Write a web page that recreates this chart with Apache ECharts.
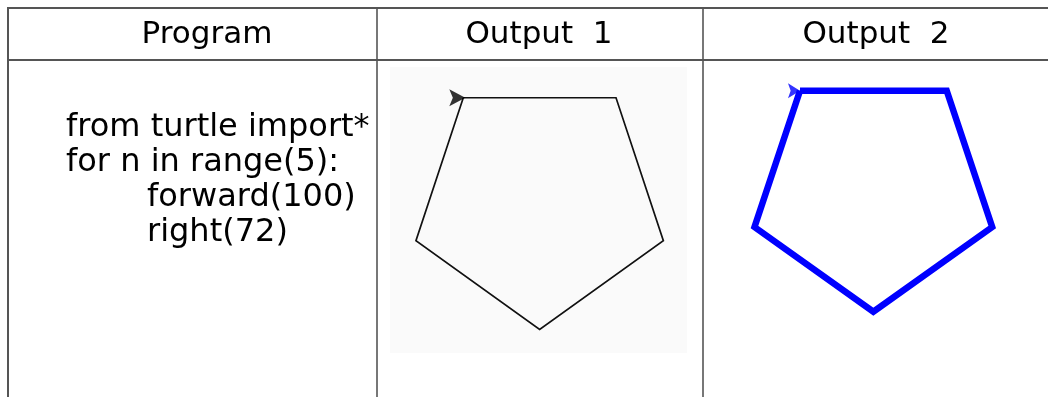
<!DOCTYPE html>
<html><head><meta charset="utf-8">
<script src="https://cdn.jsdelivr.net/npm/echarts@6/dist/echarts.min.js"></script>
<style>html,body{margin:0;padding:0;background:#fff}#c{width:1048px;height:397px}</style>
</head><body><div id="c"></div>
<script>
// ---- data ----
const headers = ['Program', 'Output  1', 'Output  2'];
const programLines = ['from turtle import*', 'for n in range(5):', 'forward(100)', 'right(72)'];
const programIndent = [0, 0, 1, 1];
// turtle path vertices (turtle units)
const pathX = [0, 100, 131, 50, -31, 0];
const pathY = [0, 0, -95, -154, -95, 0];
const turtleStart = [0, 0];

const chart = echarts.init(document.getElementById('c'), null, {renderer: 'canvas'});
const pts = pathX.map((x, i) => [x, pathY[i]]);
const arrowPath = 'path://M0,0 L9,5 L0,10 L2,5 Z';
const border = '#555555';

const graphics = [
  {type: 'rect', shape: {x: 390, y: 67, width: 297, height: 286}, style: {fill: '#fafafa'}, z: -10},
  {type: 'line', shape: {x1: 7, y1: 8, x2: 1048, y2: 8}, style: {stroke: border, lineWidth: 2}},
  {type: 'line', shape: {x1: 7, y1: 60, x2: 1048, y2: 60}, style: {stroke: border, lineWidth: 2}},
  {type: 'line', shape: {x1: 8, y1: 7, x2: 8, y2: 397}, style: {stroke: border, lineWidth: 2}},
  {type: 'line', shape: {x1: 377, y1: 7, x2: 377, y2: 397}, style: {stroke: border, lineWidth: 1.6}},
  {type: 'line', shape: {x1: 703, y1: 7, x2: 703, y2: 397}, style: {stroke: border, lineWidth: 1.6}}
];
const headerX = [207, 539, 876];
headers.forEach((h, i) => graphics.push({
  type: 'text', x: headerX[i], y: 35,
  style: {text: h, fill: '#000', font: '31px "DejaVu Sans"', textAlign: 'center', textVerticalAlign: 'middle'}
}));
programLines.forEach((t, i) => graphics.push({
  type: 'text', x: 66 + programIndent[i] * 81, y: 128 + i * 35,
  style: {text: t, fill: '#000', font: '32px "DejaVu Sans"', textAlign: 'left', textVerticalAlign: 'middle'}
}));

const axisOff = {show: false};
chart.setOption({
  animation: false,
  backgroundColor: '#fff',
  grid: [
    {left: 402.2, top: 82.7, width: 274.9, height: 270.7},
    {left: 741.3, top: 76.4, width: 264.1, height: 258.3}
  ],
  xAxis: [
    {type: 'value', gridIndex: 0, min: -40, max: 140, ...axisOff},
    {type: 'value', gridIndex: 1, min: -40, max: 140, ...axisOff}
  ],
  yAxis: [
    {type: 'value', gridIndex: 0, min: -170, max: 10, ...axisOff},
    {type: 'value', gridIndex: 1, min: -170, max: 10, ...axisOff}
  ],
  series: [
    {type: 'line', xAxisIndex: 0, yAxisIndex: 0, data: pts, showSymbol: false, silent: true,
     lineStyle: {color: '#111', width: 1.7, join: 'miter'}},
    {type: 'scatter', xAxisIndex: 0, yAxisIndex: 0, data: [turtleStart], symbol: arrowPath,
     symbolSize: [16, 17], symbolOffset: [-6, 0], itemStyle: {color: '#000'}, z: 5, silent: true},
    {type: 'line', xAxisIndex: 1, yAxisIndex: 1, data: pts, showSymbol: false, silent: true,
     lineStyle: {color: '#0000ff', width: 6.5, join: 'miter'}},
    {type: 'scatter', xAxisIndex: 1, yAxisIndex: 1, data: [turtleStart], symbol: arrowPath,
     symbolSize: [12, 15], symbolOffset: [-6, 0], itemStyle: {color: '#0000ff'}, z: 5, silent: true}
  ],
  graphic: graphics
});
</script></body></html>
